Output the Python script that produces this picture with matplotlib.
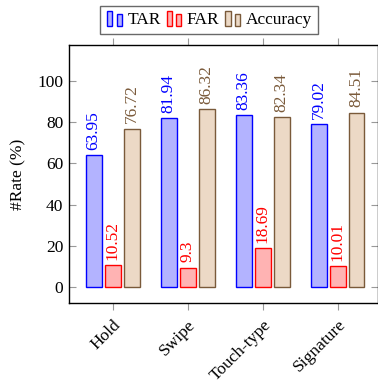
import matplotlib
matplotlib.use('Agg')
import numpy as np
from matplotlib import pyplot as plt
from matplotlib.patches import Rectangle
from matplotlib.legend_handler import HandlerBase

categories = ['Hold', 'Swipe', 'Touch-type', 'Signature']
tar = [63.95, 81.94, 83.36, 79.02]
far = [10.52, 9.3, 18.69, 10.01]
accuracy = [76.72, 86.32, 82.34, 84.51]
series_names = ['TAR', 'FAR', 'Accuracy']
label_texts = [['63.95', '81.94', '83.36', '79.02'],
               ['10.52', '9.3', '18.69', '10.01'],
               ['76.72', '86.32', '82.34', '84.51']]

plt.rcParams['font.family'] = ['Liberation Serif', 'DejaVu Serif']
plt.rcParams['font.size'] = 12.5

edge_cols = ['#0000ff', '#ff0000', '#7a5a3a']
face_cols = ['#b3b3ff', '#ffb3b3', '#ecd9c6']
text_cols = ['#0000ff', '#ff0000', '#7a5a3a']


class TwoBarHandler(HandlerBase):
    # pgfplots-style legend icon: two little bars
    def create_artists(self, legend, orig, xd, yd, w, h, fontsize, trans):
        bw = w * 0.3
        r1 = Rectangle((xd + 0.05 * w, yd - 0.15 * h), bw, h * 1.25,
                       facecolor=orig.get_facecolor(), edgecolor=orig.get_edgecolor(), lw=1, transform=trans)
        r2 = Rectangle((xd + 0.6 * w, yd - 0.15 * h), bw, h * 1.0,
                       facecolor=orig.get_facecolor(), edgecolor=orig.get_edgecolor(), lw=1, transform=trans)
        return [r1, r2]


fig = plt.figure(figsize=(3.78, 3.88), dpi=100)
ax = fig.add_axes([69 / 378, 1 - 303 / 388, (378 - 69) / 378, (303 - 45) / 388])

x = np.arange(len(categories))
width = 0.213
offsets = [-0.253, 0, 0.253]
handles = []
for i, vals in enumerate([tar, far, accuracy]):
    bars = ax.bar(x + offsets[i], vals, width, color=face_cols[i], edgecolor=edge_cols[i],
                  linewidth=1, label=series_names[i])
    handles.append(bars[0])
    for xi, v, t in zip(x + offsets[i], vals, label_texts[i]):
        ax.annotate(t, (xi, v), xytext=(0, 4), textcoords='offset points', rotation=90,
                    ha='center', va='bottom', color=text_cols[i])

ax.set_xlim(-0.583, 3.54)
ax.set_ylim(-7.8, 117.5)
ax.set_yticks([0, 20, 40, 60, 80, 100])
ax.set_xticks(x)
ax.set_xticklabels(categories, rotation=45, ha='right', rotation_mode='anchor')
ax.tick_params(axis='y', direction='in', left=True, right=True, color='#999999', length=5, pad=4)
ax.tick_params(axis='x', direction='out', top=True, bottom=True, color='#999999', length=5, pad=5)
for s in ax.spines.values():
    s.set_linewidth(1.0)
ax.set_ylabel('#Rate (%)', labelpad=8)

leg = fig.legend(handles=handles, labels=series_names, loc='center', ncol=3,
                 bbox_to_anchor=(209 / 378, 1 - 20 / 388), frameon=True, fancybox=False,
                 edgecolor='#444444', handlelength=1.0, handletextpad=0.2, columnspacing=0.3,
                 borderpad=0.35, handler_map={type(handles[0]): TwoBarHandler()})
leg.get_frame().set_linewidth(1.0)

fig.savefig('out.png', dpi=100)
